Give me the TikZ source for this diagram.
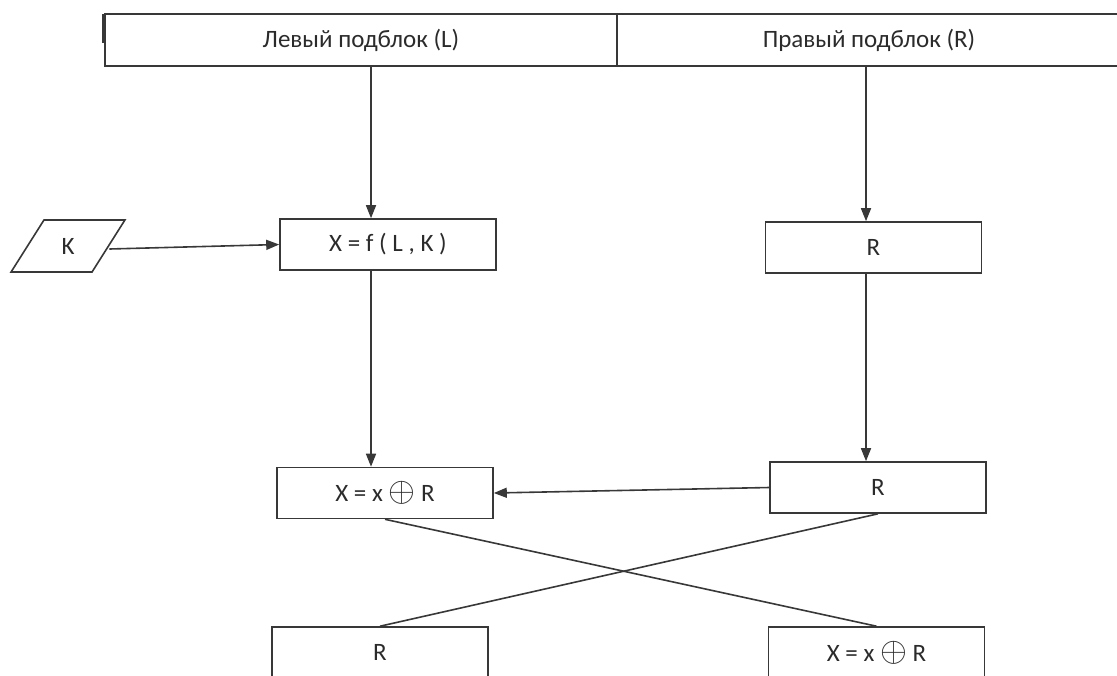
\documentclass[tikz,border=0pt]{standalone}
\usepackage{fontspec}
\setmainfont{Carlito}
\usepackage{tikz}
\usetikzlibrary{arrows.meta,positioning,shapes.geometric}
\definecolor{boxline}{HTML}{383838}
\definecolor{boxtext}{HTML}{2B2B2B}

\begin{document}
\begin{tikzpicture}[
    x=0.5pt, y=-0.5pt,
    cell/.style={rectangle, draw=boxline, line width=0.8pt, minimum width=108pt, minimum height=25.5pt, inner sep=0pt, font=\fontsize{12.5}{14}\selectfont, text=boxtext},
    hdr/.style={cell, minimum width=256pt, minimum height=26pt, outer sep=0pt},
    keyin/.style={trapezium, trapezium left angle=61, trapezium right angle=119, trapezium stretches=true, draw=boxline, line width=0.8pt, minimum width=57pt, minimum height=26pt, inner sep=0pt, font=\fontsize{12.5}{14}\selectfont, text=boxtext},
    arr/.style={-{Triangle[length=6.5pt,width=5pt]}, draw=boxline, line width=0.8pt},
    link/.style={draw=boxline, line width=0.8pt}
]
\useasboundingbox (0,0) rectangle (1117,675);
\clip (0,0) rectangle (1117,675);

\newcommand{\xorR}{X = x {\fontsize{16}{16}\selectfont$\oplus$} R}

% header
\node[hdr] (leftblk) at (361,40) {Левый подблок (L)};
\node[hdr, minimum width=252pt, right=0pt of leftblk] (rightblk) {Правый подблок (R)};
\draw[link, line width=1.1pt] ([xshift=-1pt]leftblk.north west) -- ++(0,29);

% rows
\node[keyin] (kin) at (68,246) {K};
\node[cell] (fbox) at (388,244.5) {X = f ( L , K )};
\node[cell] (rbox) at (873.5,247.5) {R};
\node[cell] (xbox) at (385,493) {\xorR};
\node[cell] (rbox2) at (878,487.5) {R};
\node[cell] (blbox) at (380,652.5) {R};
\node[cell] (brbox) at (876.5,652.5) {\xorR};

\coordinate (lx) at (371,0);
\coordinate (rx) at (866,0);

\draw[arr] (leftblk.south -| lx) -- (fbox.north -| lx);
\draw[arr] (rightblk.south -| rx) -- (rbox.north -| rx);
\draw[arr] ([yshift=-1.5pt]kin.east) -- (fbox.west);
\draw[arr] (fbox.south -| lx) -- (xbox.north -| lx);
\draw[arr] (rbox.south -| rx) -- (rbox2.north -| rx);
\draw[arr] (rbox2.west) -- (xbox.east);
\draw[link] (xbox.south) -- (brbox.north);
\draw[link] (rbox2.south) -- (blbox.north);
\end{tikzpicture}
\end{document}
